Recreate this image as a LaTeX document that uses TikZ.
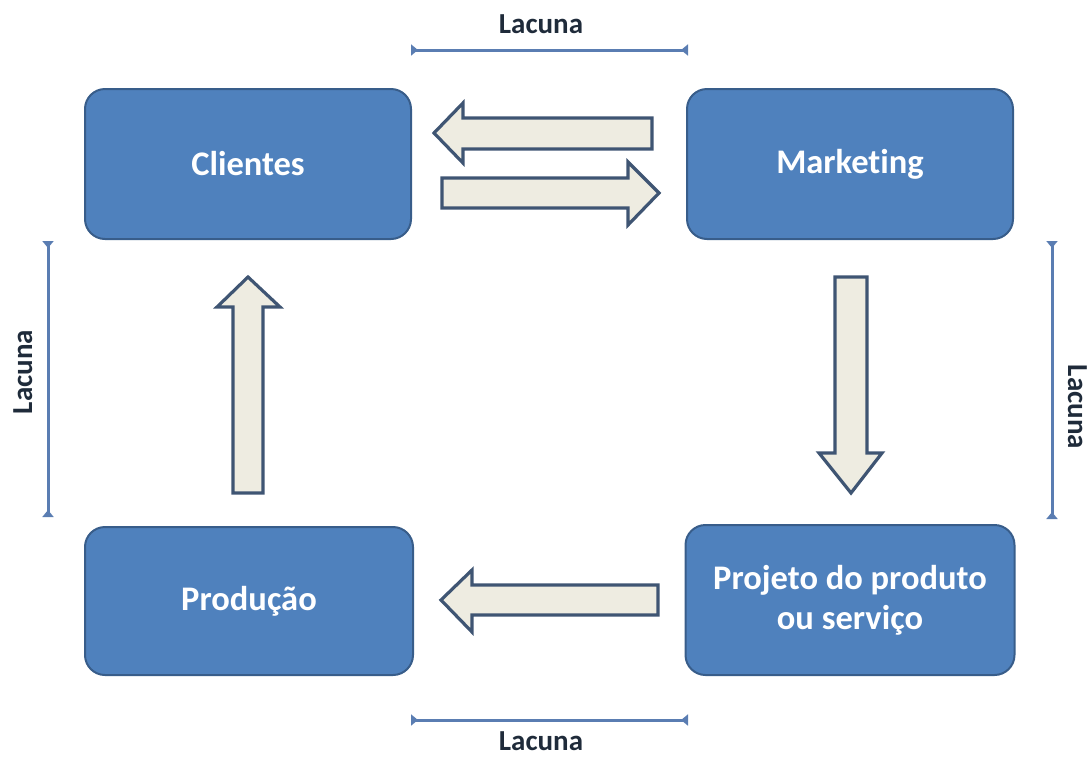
\documentclass[tikz,border=0pt]{standalone}
\usepackage{fontspec}
\setmainfont[Ligatures=NoCommon]{Carlito}
\usetikzlibrary{arrows.meta}
\definecolor{boxfill}{HTML}{4F81BD}
\definecolor{boxline}{HTML}{385D8A}
\definecolor{arrfill}{HTML}{EEECE1}
\definecolor{arrline}{HTML}{3F5573}
\definecolor{gapline}{HTML}{5A7DB2}
\definecolor{gaptext}{HTML}{1F2B3A}
\tikzset{
  stagebox/.style={draw=boxline, line width=2pt, fill=boxfill, rounded corners=20pt,
    text=white, font=\fontsize{34.5}{40}\selectfont\bfseries, align=center, inner sep=0pt},
  blockarrow/.style={draw=arrline, fill=arrfill, line width=3.2pt, line join=miter},
  gapbar/.style={draw=gapline, line width=3pt,
    {Triangle[reversed,length=7pt,width=11pt]}-{Triangle[reversed,length=7pt,width=11pt]}},
  gaplabel/.style={text=gaptext, font=\fontsize{29}{34}\selectfont\bfseries, inner sep=0pt}
}
\begin{document}
\begin{tikzpicture}[x=1pt,y=-1pt]
\useasboundingbox (0,0) rectangle (1090,756);
% boxes
\node[stagebox, minimum width=326pt, minimum height=150pt] (cli) at (248,164) {Clientes};
\node[stagebox, minimum width=326pt, minimum height=150pt] (mkt) at (850,164) {Marketing};
\node[stagebox, minimum width=328pt, minimum height=148pt] (prod) at (249,601) {Produção};
\node[stagebox, minimum width=329pt, minimum height=150pt] (proj) at (850,600) {Projeto do produto\\ou serviço};
% block arrows
\draw[blockarrow] (652,118) -- (463,118) -- (463,103) -- (434,133) -- (463,163) -- (463,149) -- (652,149) -- cycle;
\draw[blockarrow] (442,178) -- (628,178) -- (628,162) -- (659,193) -- (628,225) -- (628,208) -- (442,208) -- cycle;
\draw[blockarrow] (835,277) -- (867,277) -- (867,453) -- (882,453) -- (851,493) -- (819,453) -- (835,453) -- cycle;
\draw[blockarrow] (233,493) -- (263,493) -- (263,307) -- (280,307) -- (248,277) -- (217,307) -- (233,307) -- cycle;
\draw[blockarrow] (658,585) -- (472,585) -- (472,570) -- (441,600) -- (472,632) -- (472,615) -- (658,615) -- cycle;
% gap bars
\coordinate (t1) at (411,50); \coordinate (t2) at (688,50);
\coordinate (b1) at (411,720); \coordinate (b2) at (688,720);
\coordinate (l1) at (48,241); \coordinate (l2) at (48,517);
\coordinate (r1) at (1052,241); \coordinate (r2) at (1052,519);
\draw[gapbar] (t1) -- (t2);
\draw[gapbar] (b1) -- (b2);
\draw[gapbar] (l1) -- (l2);
\draw[gapbar] (r1) -- (r2);
\node[gaplabel, anchor=base] (lt) at (541,33) {Lacuna};
\node[gaplabel, anchor=base] (lb) at (541,750) {Lacuna};
\node[gaplabel, anchor=base, rotate=90] (ll) at (32,372) {Lacuna};
\node[gaplabel, anchor=base, rotate=-90] (lr) at (1068,407) {Lacuna};
\end{tikzpicture}
\end{document}
